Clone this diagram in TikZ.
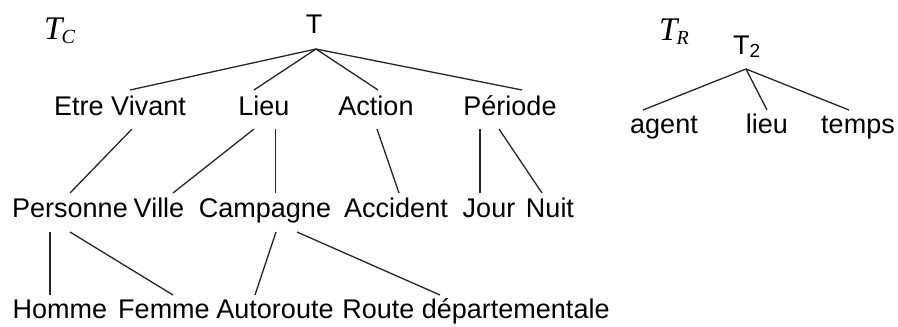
\documentclass[tikz,border=0pt]{standalone}
\usepackage{fontspec}
\setmainfont{Liberation Sans}
\newfontfamily\namefont{Liberation Serif}
\usetikzlibrary{calc}
\newcommand{\treelabel}[2]{{\namefont\itshape\fontsize{33}{36}\selectfont #1\kern-1pt\raisebox{-4pt}{\fontsize{20}{22}\selectfont #2}}}
\begin{document}
\begin{tikzpicture}[x=1pt,y=-1pt,
  lbl/.style={anchor=base,inner sep=0pt,font=\fontsize{27}{32}\selectfont},
  treename/.style={anchor=base west,inner sep=0pt},
  branch/.style={line width=1.3pt,draw=black!85}]
\useasboundingbox (0,0) rectangle (898,327);

% tree names
\node[treename] (tc) at (44,39) {\treelabel{T}{C}};
\node[treename] (tr) at (659,40) {\treelabel{T}{R}};

% concept tree T_C
\node[lbl] (T) at (314,33) {T};
\node[lbl] (ev) at (120,115) {Etre Vivant};
\node[lbl] (lieu) at (264,115) {Lieu};
\node[lbl] (action) at (376,115) {Action};
\node[lbl] (periode) at (510,115) {Période};

\node[lbl] (personne) at (70,217) {Personne};
\node[lbl] (ville) at (159,217) {Ville};
\node[lbl] (campagne) at (265,217) {Campagne};
\node[lbl] (accident) at (396,217) {Accident};
\node[lbl] (jour) at (489,217) {Jour};
\node[lbl] (nuit) at (550,217) {Nuit};

\node[lbl] (homme) at (60,318) {Homme};
\node[lbl] (femme) at (164,318) {Femme};
\node[lbl] (autoroute) at (275,318) {Autoroute};
\node[lbl] (route) at (476,318) {Route départementale};

\coordinate (apex) at ($(T.base)+(2,16)$);
\draw[branch] (apex) -- ($(ev.base)+(10,-25)$);
\draw[branch] (apex) -- ($(lieu.base)+(-10,-25)$);
\draw[branch] (apex) -- ($(action.base)+(2,-25)$);
\draw[branch] (apex) -- ($(periode.base)+(12,-25)$);

\draw[branch] ($(ev.base)+(12,14)$) -- ($(personne.base)+(0,-24)$);
\draw[branch] ($(lieu.base)+(-10,14)$) -- ($(ville.base)+(14,-24)$);
\draw[branch] ($(lieu.base)+(11.5,14)$) -- ($(campagne.base)+(10.5,-24)$);
\draw[branch] ($(action.base)+(1,14)$) -- ($(accident.base)+(3,-24)$);
\draw[branch] ($(periode.base)+(-30,14)$) -- ($(jour.base)+(-9,-24)$);
\draw[branch] ($(periode.base)+(-11,14)$) -- ($(nuit.base)+(-8,-24)$);

\draw[branch] ($(personne.base)+(-20,15)$) -- ($(homme.base)+(-10,-23)$);
\draw[branch] ($(personne.base)+(0,15)$) -- ($(femme.base)+(9,-23)$);
\draw[branch] ($(campagne.base)+(11,15)$) -- ($(autoroute.base)+(-20,-23)$);
\draw[branch] ($(campagne.base)+(32,15)$) -- ($(route.base)+(-36,-23)$);

% relation tree T_R
\node[anchor=base west,inner sep=0pt,font=\fontsize{27}{32}\selectfont] (T2) at (733,54)
  {T\raisebox{-3.5pt}{\fontsize{19}{20}\selectfont 2}};
\node[lbl] (agent) at (664,133) {agent};
\node[lbl] (lieuR) at (767,133) {lieu};
\node[lbl] (temps) at (858,133) {temps};

\coordinate (apexR) at ($(T2.base west)+(13,15)$);
\draw[branch] (apexR) -- ($(agent.base)+(-21,-23)$);
\draw[branch] (apexR) -- ($(lieuR.base)+(0,-23)$);
\draw[branch] (apexR) -- ($(temps.base)+(-9,-23)$);
\end{tikzpicture}
\end{document}
